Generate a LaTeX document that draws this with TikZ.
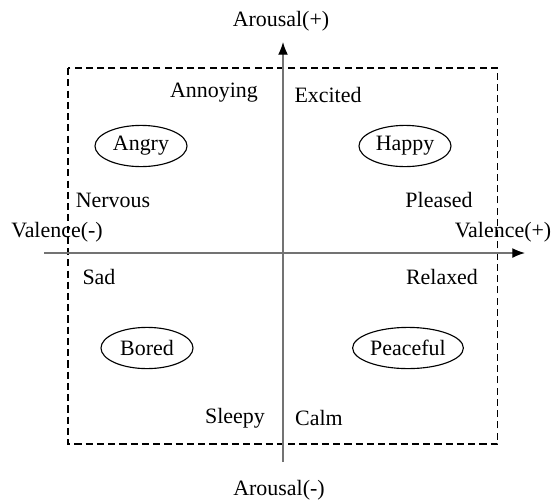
\documentclass[tikz,border=0pt]{standalone}
\usepackage{fontspec}
\setmainfont{Liberation Serif}
\usetikzlibrary{shapes.geometric, arrows.meta}
\tikzset{
  emo/.style={ellipse, draw, line width=0.8pt, minimum width=2.3cm, minimum height=1.03cm, inner sep=1pt},
  word/.style={inner sep=0pt},
  axis/.style={draw=black!55, line width=0.9pt, -{Latex[length=9pt, width=7pt, color=black]}},
}

\begin{document}
\begin{tikzpicture}[x=0.025cm, y=-0.025cm, font=\fontsize{15.6}{18}\selectfont]
    \useasboundingbox (0,0) rectangle (554,502);
    % axes ends
    \coordinate (vtop) at (283,42);
    \coordinate (vbot) at (283,462);
    \coordinate (hleft) at (44,253);
    \coordinate (hright) at (525,253);
    % dashed frame
    \draw[line width=0.8pt, dash pattern=on 5pt off 3pt] (68,68) rectangle (497.5,444);
    % vertical line
    \draw[axis] (vbot) -- (vtop);
    % horizontal line
    \draw[axis] (hleft) -- (hright);
    % axis labels
    \node (aplus) at (281,21) {Arousal(+)};
    \node (aminus) at (279,490) {Arousal(-)};
    \node (vminus) at (57,232) {Valence(-)};
    \node (vplus) at (503,232) {Valence(+)};
    % emotions
    \node[emo] (angry) at (141,146) {Angry};
    \node[emo] (happy) at (405,146) {Happy};
    \node[emo] (bored) at (147,348) {Bored};
    \node[emo] (peaceful) at (408,348) {Peaceful};
    \node[word] (annoying) at (214,93) {Annoying};
    \node[word] (excited) at (328,95) {Excited};
    \node[word] (nervous) at (113,200) {Nervous};
    \node[word] (pleased) at (439,200) {Pleased};
    \node[word] (sad) at (99,277) {Sad};
    \node[word] (relaxed) at (442,277) {Relaxed};
    \node[word] (sleepy) at (235,418) {Sleepy};
    \node[word] (calm) at (319,418) {Calm};
\end{tikzpicture}
\end{document}
